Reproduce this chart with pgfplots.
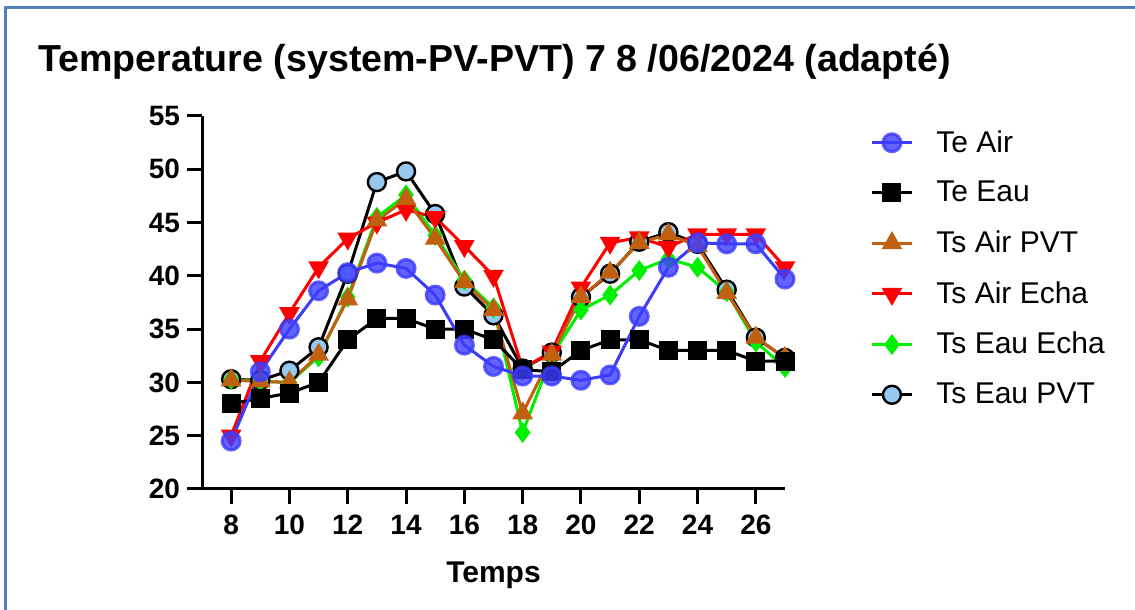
\documentclass[border=0pt]{standalone}
\usepackage{pgfplots}
\pgfplotsset{compat=1.18}
\usepackage{fontspec}
\setmainfont{Liberation Sans}
\definecolor{frameblue}{RGB}{79,129,189}
\definecolor{tblue}{RGB}{60,60,255}
\definecolor{tbrown}{RGB}{192,96,16}
\definecolor{tgreen}{RGB}{0,240,0}
\definecolor{lblue}{RGB}{150,200,240}
\begin{document}
\begin{tikzpicture}[x=1pt,y=1pt]
\path[use as bounding box, fill=white] (-101,-60.5) rectangle (466.5,244.5);
\draw[frameblue, line width=1.5pt] (-98,-61) -- (-98,240.5) -- (467,240.5);
\node[anchor=base west, inner sep=0pt, font=\bfseries\fontsize{18.8}{22}\selectfont] at (-82,208.5) {Temperature (system-PV-PVT) 7 8 /06/2024 (adapté)};
\begin{axis}[
  at={(0,0)}, anchor=south west,
  scale only axis, width=291.5pt, height=186.5pt,
  xmin=7, xmax=27, ymin=20, ymax=55,
  axis x line*=bottom, axis y line*=left,
  axis line style={line width=1.5pt},
  xtick={8,10,...,26}, ytick={20,25,...,55},
  tick align=outside, major tick length=7.5pt,
  tick style={line width=1.5pt, black},
  /pgf/number format/assume math mode=true,
  ticklabel style={font=\bfseries\fontsize{14}{16}\selectfont},
  xticklabel style={yshift=-2pt},
  xlabel={Temps},
  xlabel style={font=\bfseries\fontsize{15}{17}\selectfont, yshift=-6.5pt},
  every axis plot/.append style={line width=1.5pt},
  legend style={draw=none, fill=none, at={(1.1356,0.984)}, anchor=north west,
    font=\fontsize{15}{18}\selectfont, row sep=9pt, column sep=9.5pt, cells={anchor=west}},
  legend image code/.code={\draw[mark repeat=2,mark phase=2,#1] plot coordinates {(0pt,0pt) (10pt,0pt) (20pt,0pt)};},
  reverse legend,
  clip=false,
]
\addplot[black, mark=*, mark size=4.5pt, mark options={fill=lblue, line width=1.2pt}] coordinates {
(8,30.3) (9,30.2) (10,31.1) (11,33.3) (12,40.2) (13,48.8) (14,49.8) (15,45.8) (16,39.0) (17,36.3)
(18,31.3) (19,32.8) (20,38.0) (21,40.2) (22,43.2) (23,44.1) (24,43.0) (25,38.7) (26,34.2) (27,32.3)};
\addlegendentry{Ts Eau PVT}
\addplot[tgreen, mark=diamond*, mark size=4pt] coordinates {
(8,30.3) (9,30.1) (10,30.0) (11,32.4) (12,38.0) (13,45.5) (14,47.6) (15,43.8) (16,39.6) (17,37.0)
(18,25.3) (19,32.5) (20,36.8) (21,38.2) (22,40.5) (23,41.6) (24,40.8) (25,38.5) (26,33.8) (27,31.4)};
\addlegendentry{Ts Eau Echa}
\addplot[red, mark=triangle*, mark size=4.5pt, mark options={rotate=180}] coordinates {
(8,25.0) (9,32.0) (10,36.5) (11,40.8) (12,43.5) (13,45.0) (14,46.2) (15,45.5) (16,42.8) (17,40.0)
(18,31.3) (19,32.9) (20,38.9) (21,43.1) (22,43.6) (23,42.7) (24,43.9) (25,43.9) (26,43.9) (27,40.8)};
\addlegendentry{Ts Air Echa}
\addplot[tbrown, mark=triangle*, mark size=4.5pt] coordinates {
(8,30.2) (9,30.1) (10,30.0) (11,32.6) (12,37.8) (13,45.2) (14,47.2) (15,43.5) (16,39.4) (17,36.8)
(18,27.1) (19,32.6) (20,38.0) (21,40.3) (22,43.1) (23,43.9) (24,42.8) (25,38.4) (26,34.2) (27,32.3)};
\addlegendentry{Ts Air PVT}
\addplot[black, mark=square*, mark size=4pt] coordinates {
(8,28.0) (9,28.5) (10,29.0) (11,30.0) (12,34.0) (13,36.0) (14,36.0) (15,35.0) (16,35.0) (17,34.0)
(18,31.2) (19,31.0) (20,33.0) (21,34.0) (22,34.0) (23,33.0) (24,33.0) (25,33.0) (26,32.0) (27,32.0)};
\addlegendentry{Te Eau}
\addplot[tblue, mark=*, mark size=4.5pt, mark options={opacity=0.8}] coordinates {
(8,24.5) (9,31.0) (10,35.0) (11,38.6) (12,40.3) (13,41.2) (14,40.7) (15,38.2) (16,33.5) (17,31.5)
(18,30.6) (19,30.6) (20,30.2) (21,30.7) (22,36.2) (23,40.8) (24,43.1) (25,43.0) (26,43.0) (27,39.7)};
\addlegendentry{Te Air}
\end{axis}
\end{tikzpicture}
\end{document}
